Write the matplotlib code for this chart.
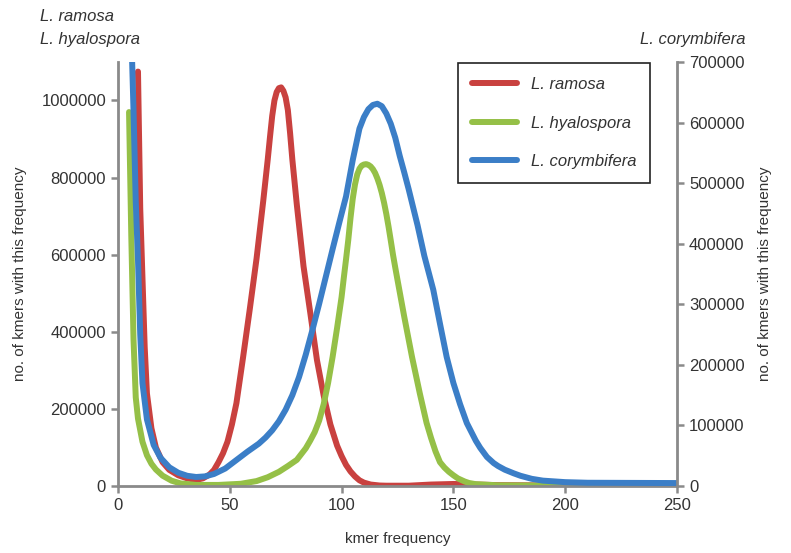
import matplotlib.pyplot as plt

# kmer frequency spectra
ramosa_x = [9, 10, 11, 12, 13, 15, 17, 20, 23, 27, 31, 35, 38, 41, 43, 45, 47, 49, 51, 53, 56, 59,
            62, 65, 67, 68, 69, 70, 71, 72, 73, 74, 75, 76, 77, 78, 80, 83, 86, 89, 92, 95, 98,
            100, 102, 104, 106, 108, 110, 113, 117, 120, 130, 140, 150, 160, 170, 200, 250]
ramosa_y = [1075000, 720000, 540000, 360000, 240000, 150000, 100000, 62000, 42000, 28000, 20000,
            16000, 20000, 30000, 42000, 62000, 85000, 115000, 160000, 215000, 335000, 460000,
            590000, 740000, 847000, 905000, 960000, 1000000, 1022000, 1032000, 1034000, 1025000,
            1008000, 975000, 915000, 847000, 730000, 570000, 450000, 327000, 235000, 160000,
            105000, 78000, 55000, 38000, 25000, 15000, 9000, 4000, 1500, 1000, 1000, 4000, 5500,
            4000, 2500, 1500, 1000]

hyalo_x = [5, 6, 7, 8, 9, 11, 13, 15, 17, 20, 24, 28, 35, 45, 55, 62, 67, 72, 76, 80, 84, 86, 88,
           90, 92, 94, 96, 98, 100, 101, 102, 103, 104, 105, 106, 107, 108, 109, 110, 111, 112,
           113, 114, 115, 116, 117, 118, 119, 120, 121, 122, 123, 124, 125, 128, 131.5, 135, 138,
           140, 142, 144, 146, 148, 150, 152, 155, 157, 160, 170, 200, 250]
hyalo_y = [970000, 650000, 380000, 230000, 175000, 115000, 80000, 58000, 43000, 27000, 14000, 7000,
           3000, 3000, 6000, 13000, 23000, 37000, 52000, 68000, 98000, 118000, 140000, 170000,
           212000, 268000, 335000, 410000, 490000, 540000, 588000, 638000, 695000, 745000, 782000,
           808000, 823000, 831000, 834000, 835000, 833000, 829000, 822000, 812000, 798000, 781000,
           760000, 735000, 706000, 673000, 637000, 600000, 567000, 535000, 440000, 335000, 240000,
           164000, 125000, 90000, 62000, 48000, 37000, 28000, 20000, 12000, 8000, 5000, 2000, 1000,
           1000]

coryn_x = [6, 7, 8, 9, 10, 11, 13, 16, 19, 23, 27, 31, 35, 39, 43, 48, 53, 58, 63, 66, 69, 72, 75,
           78, 81, 84, 87, 90, 93, 96, 99, 102, 105, 108, 110, 112, 114, 116, 118, 120, 122, 124,
           126, 128, 130, 134, 137, 141, 144, 147, 150, 153, 156, 160, 162, 165, 168, 170, 173,
           177, 180, 185, 190, 200, 210, 250]
coryn_y = [750000, 620000, 470000, 373000, 250000, 170000, 110000, 68000, 47000, 31000, 22000,
           17000, 15000, 16000, 20000, 29000, 43000, 57000, 70000, 80000, 92000, 107000, 126000,
           150000, 180000, 217000, 258000, 301000, 346000, 391000, 435000, 478000, 538000, 590000,
           609000, 622000, 629000, 631000, 627000, 615000, 598000, 575000, 545000, 518000, 490000,
           430000, 380000, 324000, 268000, 213000, 170000, 135000, 104000, 75000, 63000, 48000,
           38000, 33000, 27000, 21000, 17000, 12000, 9000, 6500, 5500, 5000]

left_ticks = [0, 200000, 400000, 600000, 800000, 1000000]
right_ticks = [0, 100000, 200000, 300000, 400000, 500000, 600000, 700000]
x_ticks = [0, 50, 100, 150, 200, 250]

red = "#c9413f"
green = "#95c047"
blue = "#3b7ec7"
grey = "#8a8a8a"
txt = "#333333"

plt.rcParams["font.family"] = ["Liberation Sans", "DejaVu Sans"]

fig = plt.figure(figsize=(7.91, 5.53), dpi=100)
ax = fig.add_axes([0.149, 0.121, 0.707, 0.767])
ax2 = ax.twinx()

lr, = ax.plot(ramosa_x, ramosa_y, color=red, lw=4.3, solid_capstyle="round",
              solid_joinstyle="round", label="L. ramosa")
lh, = ax.plot(hyalo_x, hyalo_y, color=green, lw=4.3, solid_capstyle="round",
              solid_joinstyle="round", label="L. hyalospora")
lc, = ax2.plot(coryn_x, coryn_y, color=blue, lw=4.3, solid_capstyle="round",
               solid_joinstyle="round", label="L. corymbifera")

ax.set_xlim(0, 250)
ax.set_ylim(0, 1100000)
ax2.set_ylim(0, 700000)
ax.set_xticks(x_ticks)
ax.set_yticks(left_ticks)
ax2.set_yticks(right_ticks)
ax.set_xticklabels([str(t) for t in x_ticks])
ax.set_yticklabels([str(t) for t in left_ticks])
ax2.set_yticklabels([str(t) for t in right_ticks])

for a in (ax, ax2):
    a.spines["top"].set_visible(False)
    for s in ("left", "right", "bottom"):
        a.spines[s].set_color(grey)
        a.spines[s].set_linewidth(2)
    a.tick_params(colors=grey, width=1.8, length=5, labelsize=12, labelcolor=txt)
ax.spines["right"].set_visible(False)
ax2.spines["left"].set_visible(False)
ax2.spines["bottom"].set_visible(False)

ax.set_xlabel("kmer frequency", fontsize=11, color=txt, labelpad=14)
ax.set_ylabel("no. of kmers with this frequency", fontsize=11, color=txt, labelpad=10)
ax2.set_ylabel("no. of kmers with this frequency", fontsize=11, color=txt, rotation=90, labelpad=10)

fig.text(0.051, 0.983, "L. ramosa", fontsize=12, style="italic", color=txt, va="top")
fig.text(0.051, 0.943, "L. hyalospora", fontsize=12, style="italic", color=txt, va="top")
fig.text(0.943, 0.943, "L. corymbifera", fontsize=12, style="italic", color=txt, va="top", ha="right")

leg = ax2.legend(handles=[lr, lh, lc], loc="upper right", bbox_to_anchor=(0.822, 0.886),
                 bbox_transform=fig.transFigure, borderaxespad=0, fancybox=False, framealpha=1,
                 edgecolor="#222222", handlelength=2.7, labelspacing=1.4, borderpad=0.85,
                 prop={"style": "italic", "size": 12})
leg.get_frame().set_linewidth(1.2)
for t in leg.get_texts():
    t.set_color(txt)

fig.savefig("out.png", dpi=100)
